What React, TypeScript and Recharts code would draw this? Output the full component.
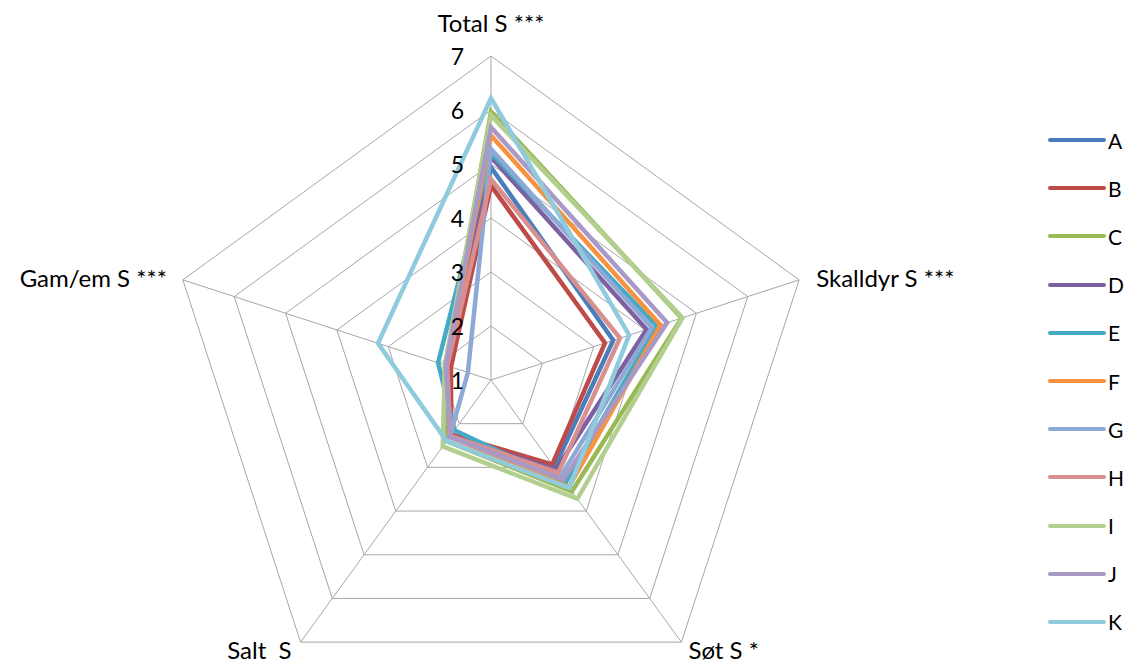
import React from 'react';
import { RadarChart, Radar, PolarGrid, PolarAngleAxis, PolarRadiusAxis, Legend } from 'recharts';

// Attribute axes, clockwise from the top
const attributes = ['Total S ***', 'Skalldyr S ***', 'Søt S *', 'Salt  S', 'Gam/em S ***'];

// Sample names and their line colours
const samples = ['A', 'B', 'C', 'D', 'E', 'F', 'G', 'H', 'I', 'J', 'K'];
const colors = [
  '#4A7EBB', '#BE4B48', '#98B954', '#7D60A0', '#46AAC5', '#F69240',
  '#8EA9D6', '#D88F8F', '#B3CF90', '#A899C7', '#8FCBDC',
];

// Mean scores per sample, in the order of the attribute axes
const A = [4.94, 3.38, 3.0, 2.25, 1.85];
const B = [4.6, 3.22, 2.93, 2.25, 1.78];
const C = [5.97, 4.71, 3.55, 2.4, 1.88];
const D = [5.13, 4.03, 3.05, 2.28, 1.85];
const E = [5.2, 4.23, 3.35, 2.15, 2.03];
const F = [5.53, 4.3, 3.45, 2.3, 1.87];
const G = [5.28, 4.13, 3.2, 2.3, 1.45];
const H = [4.72, 3.51, 3.12, 2.28, 1.85];
const I = [5.9, 4.73, 3.72, 2.52, 1.9];
const J = [5.68, 4.43, 3.28, 2.3, 1.88];
const K = [6.22, 3.69, 3.47, 2.4, 3.2];
const scores = [A, B, C, D, E, F, G, H, I, J, K];

// Radial scale ticks
const radiusTicks = [1, 2, 3, 4, 5, 6, 7];

const data = attributes.map((attr, i) => {
  const row: Record<string, string | number> = { attr };
  samples.forEach((s, j) => {
    row[s] = scores[j][i];
  });
  return row;
});

const FONT = 'Lato, "Open Sans", sans-serif';

const AngleTick = (props: any) => {
  const { x, y, payload } = props;
  const ang = (payload.coordinate * Math.PI) / 180;
  const dx = Math.cos(ang);
  const dy = -Math.sin(ang);
  // step back to the polygon corner
  const vx = x - 8 * dx;
  const vy = y - 8 * dy;
  let tx = vx;
  let ty = vy;
  let anchor: 'start' | 'middle' | 'end' = 'middle';
  if (Math.abs(dx) < 0.1) {
    ty = vy - 34;
  } else if (dy > 0.5) {
    anchor = dx > 0 ? 'start' : 'end';
    tx = vx + (dx > 0 ? 7 : -9);
    ty = vy + 7;
  } else {
    anchor = dx > 0 ? 'start' : 'end';
    tx = vx + (dx > 0 ? 17 : -16);
    ty = vy - 2;
  }
  return (
    <text
      x={tx}
      y={ty}
      textAnchor={anchor}
      dominantBaseline="central"
      fontFamily={FONT}
      fontSize={24}
      fill="#000"
      style={{ whiteSpace: 'pre' }}
    >
      {payload.value}
    </text>
  );
};

const RadiusTick = (props: any) => {
  const { x, y, payload } = props;
  return (
    <text
      x={x - 27}
      y={y}
      textAnchor="end"
      dominantBaseline="central"
      fontFamily={FONT}
      fontSize={23}
      fill="#000"
    >
      {payload.value}
    </text>
  );
};

const LegendContent = (props: any) => {
  const items = props.payload || [];
  return (
    <div style={{ fontFamily: FONT, fontSize: 21, lineHeight: 1 }}>
      {items.map((it: any) => (
        <div key={it.value} style={{ display: 'flex', alignItems: 'center', height: 48.2 }}>
          <svg width={60} height={10} style={{ display: 'block' }}>
            <line x1={2} y1={5} x2={56} y2={5} stroke={it.color} strokeWidth={4} strokeLinecap="round" />
          </svg>
          <span style={{ color: '#000' }}>{it.value}</span>
        </div>
      ))}
    </div>
  );
};

export default function App() {
  return (
    <div style={{ position: 'absolute', left: 0, top: 0, width: 1130, height: 664, background: '#fff' }}>
      <RadarChart
        width={1130}
        height={664}
        data={data}
        cx={491}
        cy={380}
        outerRadius={324}
        margin={{ top: 0, right: 0, bottom: 0, left: 0 }}
      >
        <PolarGrid gridType="polygon" stroke="#A6A6A6" strokeWidth={1} />
        <PolarAngleAxis dataKey="attr" tick={<AngleTick />} tickLine={false} axisLine={false} />
        <PolarRadiusAxis
          angle={90}
          domain={[1, 7]}
          ticks={radiusTicks}
          tickCount={7}
          axisLine={false}
          tickLine={false}
          tick={<RadiusTick />}
        />
        {samples.map((s, j) => (
          <Radar
            key={s}
            name={s}
            dataKey={s}
            stroke={colors[j]}
            strokeWidth={4.5}
            fill="none"
            fillOpacity={0}
            dot={false}
            isAnimationActive={false}
          />
        ))}
        <Legend
          layout="vertical"
          content={<LegendContent />}
          wrapperStyle={{ position: 'absolute', left: 1048, top: 116, width: 82 }}
        />
      </RadarChart>
    </div>
  );
}
